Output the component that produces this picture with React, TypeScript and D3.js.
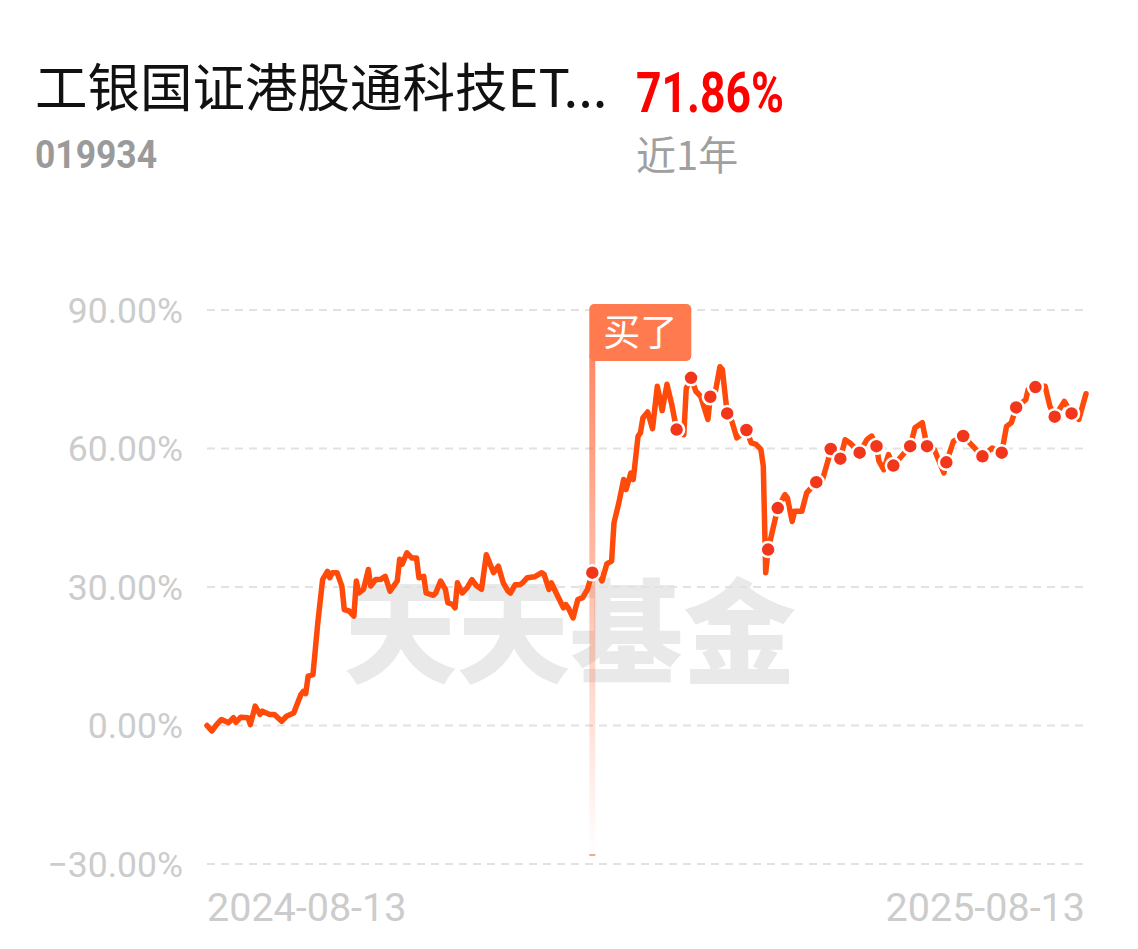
import React from 'react';
import * as d3 from 'd3';

const TITLE = '工银国证港股通科技ET...';
const FUND_CODE = '019934';
const RETURN_TEXT = '71.86%';
const PERIOD_TEXT = '近1年';
const BUY_LABEL = '买了';
const WATERMARK = '天天基金';

const START_DATE = '2024-08-13';
const END_DATE = '2025-08-13';
const X_LABELS = ['2024-08-13', '2025-08-13'];
const Y_TICKS = [90, 60, 30, 0, -30];

// [day offset from START_DATE, cumulative return %]
const SERIES: [number, number][] = [
  [0, 0.0], [2, -1.2], [4, 0.2], [6, 1.3], [9, 0.6], [11, 1.7], [12, 0.7], [14, 1.8], [17, 1.7], [18, 0.2],
  [20, 4.2], [22, 2.4], [23, 3.1], [26, 2.4], [28, 2.4], [31, 0.9], [33, 2.0], [36, 2.7], [39, 6.7], [40, 7.4],
  [41, 6.9], [42, 10.7], [44, 11.0], [46, 22.2], [48, 31.6], [50, 33.4], [51, 32.0], [52, 33.1], [54, 33.1], [56, 30.2],
  [57, 25.1], [59, 24.8], [61, 23.7], [62, 31.3], [63, 28.7], [65, 29.5], [67, 33.8], [68, 30.2], [70, 31.6], [72, 31.6],
  [74, 32.3], [76, 29.1], [79, 31.3], [80, 36.0], [81, 34.9], [83, 37.4], [85, 36.3], [87, 36.3], [88, 32.0], [90, 32.3],
  [91, 28.7], [94, 28.2], [95, 28.7], [97, 31.3], [99, 29.5], [100, 26.6], [102, 26.2], [103, 25.5], [104, 30.9], [106, 28.7],
  [108, 29.8], [110, 31.6], [112, 30.2], [114, 29.5], [116, 37.0], [119, 33.1], [121, 34.5], [123, 30.9], [125, 29.1], [126, 28.7],
  [128, 30.5], [130, 30.5], [131, 30.9], [133, 32.0], [136, 32.2], [139, 33.1], [140, 32.7], [142, 29.5], [143, 30.9], [145, 28.7],
  [148, 25.5], [149, 26.2], [150, 25.5], [152, 23.3], [154, 27.3], [156, 27.7], [158, 29.5], [160, 33.1], [162, 33.8], [164, 31.3],
  [166, 35.0], [168, 35.6], [169, 43.9], [171, 48.2], [173, 53.3], [174, 51.1], [176, 54.7], [177, 53.3], [179, 62.7], [180, 63.4],
  [181, 66.6], [183, 67.9], [185, 64.3], [187, 73.5], [189, 68.2], [191, 73.9], [193, 69.5], [195, 64.1], [198, 63.0], [199, 73.0],
  [201, 75.3], [203, 72.4], [205, 71.3], [208, 66.3], [209, 71.2], [211, 72.0], [213, 77.7], [214, 77.1], [216, 67.6], [218, 65.8],
  [220, 62.3], [224, 64.0], [226, 61.2], [228, 60.9], [230, 59.8], [231, 56.2], [232, 33.1], [233, 38.1], [237, 47.1], [240, 50.0],
  [241, 49.3], [243, 44.2], [244, 46.4], [247, 46.4], [249, 50.4], [253, 52.7], [255, 52.2], [258, 57.6], [259, 59.9], [263, 57.8],
  [265, 61.9], [267, 61.2], [271, 59.1], [274, 61.9], [276, 62.7], [278, 60.5], [279, 57.3], [281, 55.4], [283, 58.7], [285, 56.3],
  [289, 58.7], [292, 60.5], [294, 64.5], [297, 65.6], [299, 60.5], [302, 59.8], [306, 54.7], [307, 57.0], [310, 61.6], [314, 62.7],
  [318, 60.5], [322, 58.3], [326, 60.1], [330, 59.1], [332, 64.8], [334, 65.6], [336, 68.9], [340, 70.6], [341, 72.8], [344, 73.3],
  [348, 73.5], [350, 69.2], [352, 66.9], [356, 70.2], [359, 67.6], [362, 66.3], [365, 71.86],
];

const BUY_DAY = 160;
const MARK_DAYS = [160, 195, 201, 209, 216, 224, 233, 237, 253, 259, 263, 271, 278, 285, 292, 299, 307, 314, 322, 330, 336, 344, 352, 359];

const W = 1138;
const H = 949;

export default function App() {
  const parse = d3.timeParse('%Y-%m-%d');
  const start = parse(START_DATE)!;
  const end = parse(END_DATE)!;
  const toDate = (d: number) => d3.timeDay.offset(start, d);

  const x = d3.scaleTime().domain([start, end]).range([207, 1086]);
  const y = d3.scaleLinear().domain([-30, 90]).range([864, 310]);

  const line = d3
    .line<[number, number]>()
    .x((p) => x(toDate(p[0])))
    .y((p) => y(p[1]));

  const valueAt = new Map(SERIES.map((p) => [p[0], p[1]]));
  const marks = MARK_DAYS.map((d) => [d, valueAt.get(d) ?? 0] as [number, number]);

  const buyX = x(toDate(BUY_DAY));
  const gridX0 = 207;
  const gridX1 = 1086;
  const cjk = '"Noto Sans CJK SC", "Noto Sans", sans-serif';
  const num = 'Roboto, "Noto Sans", sans-serif';

  return (
    <svg
      width={W}
      height={H}
      viewBox={`0 0 ${W} ${H}`}
      style={{ position: 'absolute', left: 0, top: 0, background: '#fff' }}
    >
      <defs>
        <linearGradient id="buyGrad" x1="0" y1="0" x2="0" y2="1">
          <stop offset="0%" stopColor="#ff6a3d" stopOpacity={0.8} />
          <stop offset="55%" stopColor="#ff6a3d" stopOpacity={0.35} />
          <stop offset="100%" stopColor="#ff6a3d" stopOpacity={0} />
        </linearGradient>
      </defs>
      <rect x={0} y={0} width={W} height={H} fill="#fff" />

      {/* Header */}
      <text x={35} y={107} fontFamily={cjk} fontSize={52.5} fill="#111">
        {TITLE}
      </text>
      <text
        x={636}
        y={112}
        fontFamily={num}
        fontWeight={700}
        fontSize={56}
        fill="#ff0000"
        textLength={148}
        lengthAdjust="spacingAndGlyphs"
      >
        {RETURN_TEXT}
      </text>
      <text
        x={35}
        y={168}
        fontFamily={num}
        fontWeight={700}
        fontSize={39}
        fill="#9a9a9a"
        textLength={122}
        lengthAdjust="spacingAndGlyphs"
      >
        {FUND_CODE}
      </text>
      <text x={636} y={170} fontFamily={cjk} fontSize={40} fill="#a0a0a0">
        {PERIOD_TEXT}
      </text>

      {/* Watermark */}
      <text x={344} y={674} fontFamily={cjk} fontWeight={900} fontSize={113} fill="#e9e9e9">
        {WATERMARK}
      </text>

      {/* Grid and y labels */}
      {Y_TICKS.map((t) => (
        <g key={t}>
          <line
            x1={gridX0}
            x2={gridX1}
            y1={y(t)}
            y2={y(t)}
            stroke="#e2e2e2"
            strokeWidth={2}
            strokeDasharray="8 6"
          />
          <text
            x={183}
            y={y(t)}
            dy="0.36em"
            textAnchor="end"
            fontFamily={num}
            fontSize={35.5}
            fill="#cccccc"
          >
            {d3.format('.2f')(t) + '%'}
          </text>
        </g>
      ))}

      {/* X labels */}
      <text x={207} y={921} fontFamily={num} fontSize={39.5} fill="#cccccc">
        {X_LABELS[0]}
      </text>
      <text x={1085} y={921} textAnchor="end" fontFamily={num} fontSize={39.5} fill="#cccccc">
        {X_LABELS[1]}
      </text>

      {/* Buy marker line */}
      <rect x={buyX - 3} y={355} width={6} height={498} fill="url(#buyGrad)" />
      <rect x={buyX - 3} y={854} width={6} height={2} fill="#f7a589" />

      {/* Series */}
      <path
        d={line(SERIES) ?? ''}
        fill="none"
        stroke="#ff4a0a"
        strokeWidth={5.5}
        strokeLinejoin="round"
        strokeLinecap="round"
      />
      {marks.map((m) => (
        <circle
          key={m[0]}
          cx={x(toDate(m[0]))}
          cy={y(m[1])}
          r={7.5}
          fill="#f2361c"
          stroke="#fff"
          strokeWidth={2.5}
        />
      ))}

      {/* Buy label */}
      <rect x={buyX - 3} y={304} width={102} height={57} rx={5} fill="#ff7a4f" />
      <text
        x={buyX - 3 + 51}
        y={304 + 28.5}
        dy="0.36em"
        textAnchor="middle"
        fontFamily={cjk}
        fontSize={37}
        fill="#fff"
      >
        {BUY_LABEL}
      </text>
    </svg>
  );
}
